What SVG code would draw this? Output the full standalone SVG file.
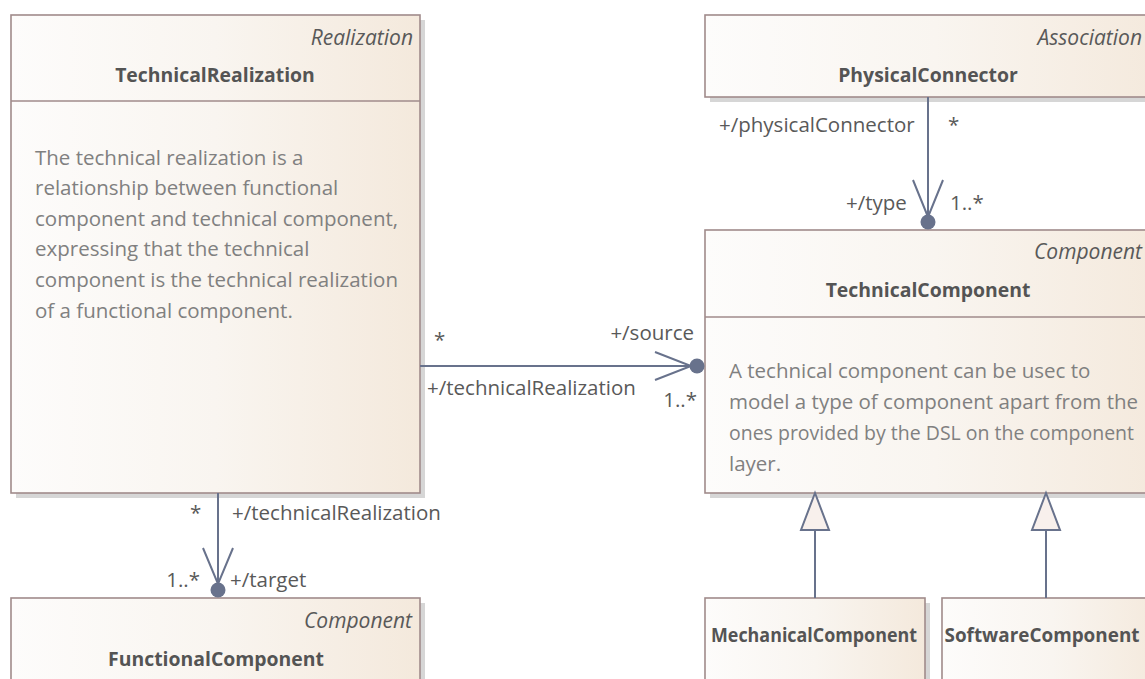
<svg xmlns="http://www.w3.org/2000/svg" width="1145" height="679" viewBox="0 0 1145 679">
<defs>
<linearGradient id="g" x1="0" y1="0" x2="1" y2="0">
<stop offset="0" stop-color="#fdfcfb"/>
<stop offset="0.5" stop-color="#f9f5f0"/>
<stop offset="1" stop-color="#f4e9dc"/>
</linearGradient>
<style>
.box{fill:url(#g);stroke:#a08b8b;stroke-width:1.6}
.sh{fill:#d6d6d6}
.div{stroke:#a08b8b;stroke-width:1.6}
.st{font-family:"Open Sans","Liberation Sans",sans-serif;font-size:21px;font-style:italic;fill:#595959;text-anchor:end}
.nm{font-family:"Open Sans","Liberation Sans",sans-serif;font-size:19.4px;font-weight:bold;fill:#545454;text-anchor:middle}
.ds{font-family:"Open Sans","Liberation Sans",sans-serif;font-size:20.5px;fill:#808080}
.lb{font-family:"Open Sans","Liberation Sans",sans-serif;font-size:20.5px;fill:#595959}
.ln{stroke:#68728c;stroke-width:2;fill:none}
.dot{fill:#68728c}
.tri{fill:#f8f0ec;stroke:#68728c;stroke-width:2}
</style>
</defs>
<rect width="1145" height="679" fill="#ffffff"/>

<g id="TechnicalRealization">
<rect class="sh" x="16" y="20" width="409" height="478"/>
<rect class="box" x="11" y="15" width="409" height="478"/>
<line class="div" x1="11" y1="101" x2="420" y2="101"/>
<text class="st" x="413" y="45">Realization</text>
<text class="nm" x="215" y="82">TechnicalRealization</text>
<text class="ds" x="35" y="165">The technical realization is a</text>
<text class="ds" x="35" y="195">relationship between functional</text>
<text class="ds" x="35" y="226">component and technical component,</text>
<text class="ds" x="35" y="256">expressing that the technical</text>
<text class="ds" x="35" y="287">component is the technical realization</text>
<text class="ds" x="35" y="318">of a functional component.</text>
</g>

<g id="PhysicalConnector">
<rect class="sh" x="710" y="20" width="460" height="82"/>
<rect class="box" x="705" y="15" width="460" height="82"/>
<text class="st" x="1142" y="45">Association</text>
<text class="nm" x="928" y="82">PhysicalConnector</text>
</g>

<g id="TechnicalComponent">
<rect class="sh" x="710" y="235" width="460" height="263"/>
<rect class="box" x="705" y="230" width="460" height="263"/>
<line class="div" x1="705" y1="317" x2="1165" y2="317"/>
<text class="st" x="1142" y="259">Component</text>
<text class="nm" x="928" y="297">TechnicalComponent</text>
<text class="ds" x="729" y="378">A technical component can be usec to</text>
<text class="ds" x="729" y="409">model a type of component apart from the</text>
<text class="ds" x="729" y="440" style="font-size:19.5px" textLength="405" lengthAdjust="spacingAndGlyphs">ones provided by the DSL on the component</text>
<text class="ds" x="729" y="471">layer.</text>
</g>

<g id="FunctionalComponent">
<rect class="sh" x="16" y="603" width="409" height="100"/>
<rect class="box" x="11" y="598" width="409" height="100"/>
<text class="st" x="412" y="628">Component</text>
<text class="nm" x="216" y="666">FunctionalComponent</text>
</g>

<g id="MechanicalComponent">
<rect class="sh" x="710" y="603" width="220" height="100"/>
<rect class="box" x="705" y="598" width="220" height="100"/>
<text class="nm" x="814" y="642" textLength="206" lengthAdjust="spacingAndGlyphs">MechanicalComponent</text>
</g>

<g id="SoftwareComponent">
<rect class="sh" x="947" y="603" width="220" height="100"/>
<rect class="box" x="942" y="598" width="220" height="100"/>
<text class="nm" x="1042" y="642" textLength="195" lengthAdjust="spacingAndGlyphs">SoftwareComponent</text>
</g>

<g id="connectors">
<line class="ln" x1="928" y1="97" x2="928" y2="222"/>
<polyline class="ln" points="913,180 928,217 943,180"/>
<circle class="dot" cx="928" cy="222" r="7.5"/>
<text class="lb" x="719" y="132">+/physicalConnector</text>
<text class="lb" x="948" y="132">*</text>
<text class="lb" x="846" y="210">+/type</text>
<text class="lb" x="950" y="210">1..*</text>

<line class="ln" x1="420" y1="366" x2="697" y2="366"/>
<polyline class="ln" points="655,352 691,366 655,380"/>
<circle class="dot" cx="697" cy="366" r="7.5"/>
<text class="lb" x="434" y="347">*</text>
<text class="lb" x="694" y="340" text-anchor="end">+/source</text>
<text class="lb" x="427" y="395">+/technicalRealization</text>
<text class="lb" x="697" y="407" text-anchor="end">1..*</text>

<line class="ln" x1="218" y1="493" x2="218" y2="590"/>
<polyline class="ln" points="203,548 218,584 233,548"/>
<circle class="dot" cx="218" cy="590" r="7.5"/>
<text class="lb" x="190" y="520">*</text>
<text class="lb" x="232" y="520">+/technicalRealization</text>
<text class="lb" x="200" y="587" text-anchor="end">1..*</text>
<text class="lb" x="230" y="587">+/target</text>

<line class="ln" x1="815" y1="530" x2="815" y2="598"/>
<polygon class="tri" points="815,493 801,530 829,530"/>
<line class="ln" x1="1046" y1="530" x2="1046" y2="598"/>
<polygon class="tri" points="1046,493 1032,530 1060,530"/>
</g>
</svg>
